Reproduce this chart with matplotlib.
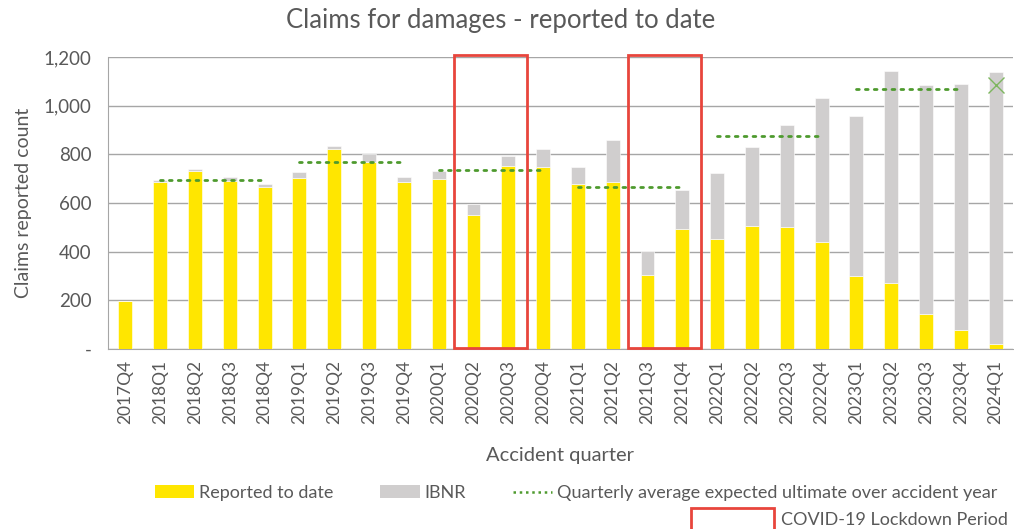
import matplotlib.pyplot as plt
from matplotlib.patches import Rectangle, Patch
from matplotlib.lines import Line2D
from matplotlib.ticker import FuncFormatter

plt.rcParams['font.family'] = ['Lato', 'DejaVu Sans']

quarters = ['2017Q4',
            '2018Q1', '2018Q2', '2018Q3', '2018Q4',
            '2019Q1', '2019Q2', '2019Q3', '2019Q4',
            '2020Q1', '2020Q2', '2020Q3', '2020Q4',
            '2021Q1', '2021Q2', '2021Q3', '2021Q4',
            '2022Q1', '2022Q2', '2022Q3', '2022Q4',
            '2023Q1', '2023Q2', '2023Q3', '2023Q4',
            '2024Q1']
reported = [198,
            685, 731, 690, 668,
            704, 823, 770, 685,
            699, 551, 753, 748,
            679, 688, 306, 493,
            454, 506, 502, 440,
            301, 271, 146, 77,
            23]
total = [198,
         696, 741, 708, 679,
         726, 835, 801, 708,
         733, 595, 792, 823,
         749, 861, 402, 656,
         722, 830, 920, 1032,
         958, 1143, 1085, 1090,
         1139]
ibnr = [t - r for t, r in zip(total, reported)]

# quarterly average expected ultimate, one value per accident year
year_avg = {'2018': 697, '2019': 767, '2020': 735, '2021': 667,
            '2022': 875, '2023': 1068}
avg_2024 = 1087

covid_periods = [('2020Q2', '2020Q3'), ('2021Q3', '2021Q4')]

yellow = '#FFE600'
grey = '#D0CECE'
green = '#4E9A2E'
red = '#E8453C'
text_col = '#595959'

fig = plt.figure(figsize=(10.14, 5.29), dpi=100)
ax = fig.add_axes([0.1065, 0.340, 0.8925, 0.552])

x = list(range(len(quarters)))
ax.bar(x, reported, width=0.4, color=yellow, edgecolor='white', linewidth=0.4, zorder=3)
ax.bar(x, ibnr, width=0.4, bottom=reported, color=grey, edgecolor='white', linewidth=0.4, zorder=3)

for yr, val in year_avg.items():
    idx = [i for i, q in enumerate(quarters) if q.startswith(yr)]
    ax.plot([idx[0], idx[-1]], [val, val], color=green, linestyle=(0, (1, 2.2)),
            linewidth=2, dash_capstyle='round', zorder=4)
ax.plot([quarters.index('2024Q1')], [avg_2024], marker='x', color='#7DB65E',
        markersize=11, markeredgewidth=1, linestyle='none', zorder=4)

for a, b in covid_periods:
    i0 = quarters.index(a)
    i1 = quarters.index(b)
    ax.add_patch(Rectangle((i0 - 0.55, 5), i1 - i0 + 1.08, 1205, fill=False,
                           edgecolor=red, linewidth=2, clip_on=False, zorder=5))

ax.set_xlim(-0.5, len(quarters) - 0.5)
ax.set_ylim(0, 1200)
ax.set_yticks(range(0, 1201, 200))
ax.yaxis.set_major_formatter(FuncFormatter(lambda v, p: '-' if v == 0 else f'{int(v):,}'))
ax.set_xticks(x)
ax.set_xticklabels(quarters, rotation=90, fontsize=12.5, color=text_col)
ax.tick_params(axis='y', labelsize=13.5, colors=text_col, length=0, pad=12)
ax.tick_params(axis='x', length=0, pad=8)
ax.grid(axis='y', color='#A6A6A6', linewidth=1, zorder=0)
for s in ['top', 'right']:
    ax.spines[s].set_visible(False)
ax.spines['left'].set_color('#A6A6A6')
ax.spines['bottom'].set_color('#A6A6A6')

ax.set_ylabel('Claims reported count', fontsize=14, color=text_col, labelpad=8)
ax.set_xlabel('Accident quarter', fontsize=14.5, color=text_col, labelpad=16)
fig.text(0.494, 0.962, 'Claims for damages - reported to date', ha='center', va='center',
         fontsize=18.5, color=text_col)

h1 = [Patch(facecolor=yellow), Patch(facecolor=grey),
      Line2D([], [], color=green, linestyle=(0, (1, 1.5)), linewidth=1.8)]
fig.legend(h1, ['Reported to date', 'IBNR',
                'Quarterly average expected ultimate over accident year'],
           loc='center', bbox_to_anchor=(0.568, 0.068), ncol=3, frameon=False,
           fontsize=13, handlelength=2.2, handletextpad=0.25, columnspacing=2.6,
           labelcolor=text_col)
h2 = [Patch(facecolor='white', edgecolor=red, linewidth=2)]
fig.legend(h2, ['COVID-19 Lockdown Period'], loc='center', bbox_to_anchor=(0.838, 0.018),
           frameon=False, fontsize=13, handlelength=4.6, handleheight=1.5,
           handletextpad=0.4, labelcolor=text_col)

plt.savefig('out.png', dpi=100)
